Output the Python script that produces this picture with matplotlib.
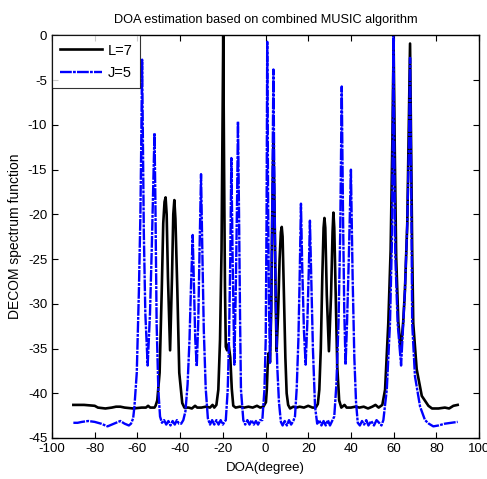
import matplotlib
matplotlib.use("Agg")
import matplotlib.pyplot as plt

plt.rcParams['font.family'] = ['Liberation Sans', 'DejaVu Sans']
plt.rcParams['axes.unicode_minus'] = False

# L=7 spectrum (degree, dB)
l7_deg = [-90, -85, -80, -78.5, -75, -72, -70, -68, -66, -62, -58, -56, -55, -54, -52,
          -51.5, -50.7, -49.6, -48.6, -47.9, -47.3, -46.8, -46.3, -45.7, -44.7, -43.8,
          -43.2, -42.7, -42.2, -41.3, -40.4, -39.0, -38, -36, -34.5, -33, -32, -30, -28,
          -26, -24.8, -24, -23, -22.1, -21.3, -20.6, -20.2, -19.8, -19.4, -19.0, -18.6,
          -18.0, -17.3, -16.5, -15.8, -15.1, -14, -12, -10, -8, -6, -4, -2.5, -1, 0.2,
          0.6, 1.0, 1.5, 2.1, 2.7, 3.2, 3.7, 4.2, 4.8, 5.2, 5.9, 6.6, 7.2, 7.6, 8.0, 8.6,
          9.3, 9.9, 10.6, 11.5, 13, 14.5, 16, 18, 20, 22, 23.5, 24.5, 25.2, 25.9, 26.6,
          27.2, 27.6, 28.0, 28.7, 29.7, 30.7, 31.4, 31.8, 32.2, 32.9, 33.6, 34.5, 35.5,
          37, 38, 40, 42, 44, 46, 48, 50, 51.5, 53, 54.7, 56, 57.5, 58.6, 59.4, 60.0,
          60.6, 61.2, 62.2, 63.3, 64.5, 65.3, 66.4, 67.1, 67.7, 68.2, 68.7, 69.2, 70.8,
          73.2, 76.3, 78, 81, 84, 86, 88, 90]
l7_db = [-41.3, -41.3, -41.4, -41.6, -41.7, -41.6, -41.5, -41.5, -41.6, -41.7, -41.6,
         -41.6, -41.4, -41.6, -41.6, -41.4, -40.8, -37.7, -28.5, -21, -18.6, -18.1, -20,
         -27, -35.2, -27, -20, -18.4, -20.5, -28.5, -37.7, -41.1, -41.6, -41.6, -41.7,
         -41.4, -41.6, -41.6, -41.5, -41.6, -41.3, -41.6, -41.3, -39.6, -34, -24, -12, 0,
         -15, -28, -34.8, -35.2, -34.5, -36, -39.5, -41.4, -41.6, -41.5, -41.6, -41.5,
         -41.6, -41.4, -41.6, -41.5, -41, -39.6, -37, -35.5, -36.5, -30.5, -19, -12, -19,
         -30, -35.3, -31, -25, -22, -21.4, -22.5, -28.5, -36, -40, -41.3, -41.7, -41.5,
         -41.6, -41.5, -41.6, -41.4, -41.6, -41.6, -41.2, -39.6, -35, -27, -21.5, -20.4,
         -21.5, -29, -35.3, -29, -22, -19.8, -21.5, -29, -37, -40.8, -41.6, -41.3, -41.6,
         -41.6, -41.5, -41.6, -41.5, -41.7, -41.5, -41.3, -41.6, -41.3, -39.6, -32.2, -24,
         -12, -1, -14, -24.7, -32, -35.3, -32, -28.5, -21, -10, -0.9, -12, -24, -32.2,
         -37.3, -40.3, -41.4, -41.7, -41.7, -41.6, -41.7, -41.4, -41.3]

# J=5 spectrum (degree, dB)
j5_deg = [-90, -88, -86, -83, -80, -77, -74, -72, -70, -68, -66, -64, -63, -62, -61.4,
          -60.3, -59.3, -58.6, -58.2, -57.8, -57.4, -57, -56.3, -55.2, -54.1, -53.3,
          -52.6, -52.0, -51.6, -51, -50.2, -49.4, -48.5, -47.5, -46.5, -45.5, -44.5,
          -43.5, -42.5, -41.5, -40.5, -39.5, -38.5, -37.5, -36.5, -35.6, -34.9, -34.1,
          -33.5, -32.9, -32.2, -31.5, -30.9, -30.2, -29.6, -28.9, -28.0, -27.0, -26, -25,
          -24, -23, -22, -21, -20, -19.2, -18.6, -17.7, -17.1, -16.5, -16.0, -15.4,
          -14.6, -13.9, -13.3, -12.9, -12.4, -11.9, -11.5, -10.4, -9.5, -8.5, -7.5, -6.5,
          -5.5, -4.5, -3.5, -2.5, -1.5, -0.5, 0.1, 0.5, 0.8, 1.2, 1.6, 2.1, 2.7, 3.2, 3.7,
          4.2, 4.8, 5.5, 6.3, 7.2, 8, 9, 10, 11, 12, 13, 13.8, 14.6, 15.4, 16.0, 16.6,
          17.2, 18.0, 18.8, 19.6, 20.3, 20.8, 21.4, 22.2, 23.2, 24.2, 25.2, 26.2, 27.2,
          28.2, 29.2, 30.2, 31.2, 32.2, 33.2, 34.2, 35.0, 35.7, 36.3, 36.9, 37.5, 38.2,
          39.0, 40.0, 40.8, 41.6, 42.4, 43.2, 44.2, 45.2, 46.2, 47.2, 48.2, 49.5, 50.8,
          52, 53.2, 54.3, 55.2, 56.8, 58.3, 59.3, 59.9, 60.5, 60.8, 61.9, 63.5, 65.3,
          66.4, 67.2, 67.7, 68.2, 68.7, 70, 72.4, 74.7, 76.5, 78.6, 81, 84, 87, 90]
j5_db = [-43.3, -43.3, -43.2, -43.1, -43.2, -43.4, -43.7, -43.5, -43.3, -43.1, -43.4,
         -43.6, -43.4, -42.8, -41.5, -37.7, -28.5, -20, -12, -2.7, -12, -22, -31, -36.9,
         -31, -24, -17, -10.9, -18, -32.2, -39.6, -42.6, -43.3, -43.0, -43.5, -43.1,
         -43.6, -43.1, -43.5, -43.0, -43.4, -43.4, -43.0, -42, -39, -34, -28, -22.3, -28,
         -34, -37.0, -32, -24, -15.5, -24, -33, -39.5, -42.8, -43.5, -43.0, -43.5, -43.0,
         -43.5, -43.0, -43.5, -43.2, -43, -39.6, -34, -25, -13.7, -25, -36.8, -28, -18,
         -9.6, -20, -32, -39.6, -43, -43.5, -43.0, -43.5, -43.0, -43.5, -43.1, -43.5,
         -43.0, -43, -39.6, -34, -20, -0.7, -18, -30, -36.6, -30, -18, -3.8, -18, -30, -37,
         -41, -43.2, -43.6, -43.1, -43.6, -43.0, -43.5, -43.1, -42.6, -39.5, -34, -27,
         -18.8, -26, -33, -36.8, -32, -26, -20.7, -27, -35, -41.5, -43.4, -43.0, -43.6,
         -43.1, -43.6, -43.0, -43.6, -43.1, -42.6, -39, -32, -22, -5.7, -20, -31, -36.8,
         -32, -25, -15.0, -27, -36, -41, -43.3, -43.6, -43.1, -43.5, -43.0, -43.6, -43.1,
         -43.6, -43.0, -43.3, -43.6, -43, -39.6, -32.2, -22, 0, -18, -24.7, -32.2, -36.9,
         -28.5, -21, -12, -2.5, -15, -32.2, -38.1, -41.5, -43, -43.4, -43.7, -43.6, -43.4,
         -43.3, -43.2]

fig = plt.figure(figsize=(4.87, 4.79), dpi=100)
ax = fig.add_axes([0.1068, 0.0856, 0.8768, 0.8403])

ax.plot(l7_deg, l7_db, color="black", lw=1.9, label="L=7")
ax.plot(j5_deg, j5_db, color="#0000ff", lw=1.7, dashes=(5, 0.5, 1.2, 0.5), label="J=5")

ax.set_xlim(-100, 100)
ax.set_ylim(-45, 0)
ax.set_xticks(range(-100, 101, 20))
ax.set_yticks(range(-45, 1, 5))
ax.tick_params(direction="in", top=True, right=True, labelsize=9.5, length=4, width=0.8)
for s in ax.spines.values():
    s.set_linewidth(1.0)

ax.set_title("DOA estimation based on combined MUSIC algorithm", fontsize=9.2, pad=9)
ax.set_xlabel("DOA(degree)", fontsize=9.5, labelpad=5)
ax.set_ylabel("DECOM spectrum function", fontsize=10, labelpad=4)

leg = ax.legend(loc="upper left", fontsize=10.5, frameon=True, fancybox=False,
                borderaxespad=0, handlelength=2.9, handletextpad=0.35,
                borderpad=0.55, labelspacing=0.6)
leg.get_frame().set_edgecolor("black")
leg.get_frame().set_linewidth(0.8)

fig.savefig("out.png", dpi=100)
